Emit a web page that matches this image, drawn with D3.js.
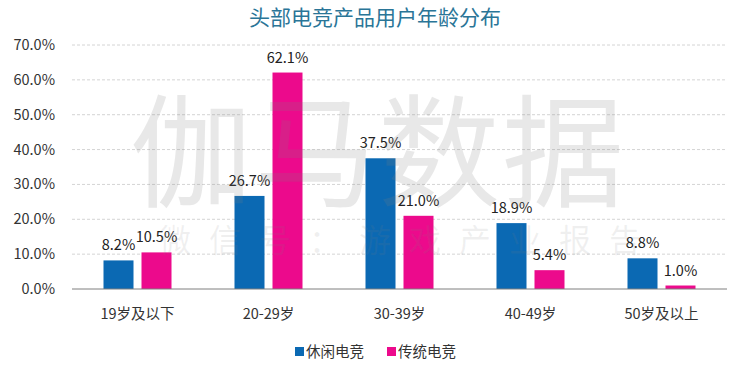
<!DOCTYPE html>
<meta charset="utf-8">
<style>
  body { margin: 0; background: #fff; }
  text { font-family: "Microsoft YaHei", "Noto Sans CJK SC", sans-serif; }
</style>
<svg width="750" height="367"></svg>
<script src="https://d3js.org/d3.v7.min.js"></script>
<script>
var categories = ["19岁及以下", "20-29岁", "30-39岁", "40-49岁", "50岁及以上"]
var seriesNames = ["休闲电竞", "传统电竞"]
var casual = [8.2, 26.7, 37.5, 18.9, 8.8]
var traditional = [10.5, 62.1, 21.0, 5.4, 1.0]
var yTicks = [0, 10, 20, 30, 40, 50, 60, 70]
var colors = ["#0b69b3", "#ec0a8c"]

var svg = d3.select("svg")
var plotLeft = 72, plotRight = 727, plotTop = 45, plotBottom = 289

var x = d3.scaleBand().domain(categories).range([plotLeft, plotRight])
// two bars of 30px with an 8px gap
var x1 = d3.scaleBand().domain(seriesNames).range([0, 68]).paddingInner(8 / 38)
var y = d3.scaleLinear().domain([0, 70]).range([plotBottom, plotTop])

// title
svg.append("text")
  .attr("x", 375).attr("y", 25)
  .attr("text-anchor", "middle")
  .attr("font-size", 21)
  .attr("fill", "#2a7597")
  .text("头部电竞产品用户年龄分布")

// grid
svg.append("g").selectAll("line")
  .data(yTicks.slice(1))
  .enter().append("line")
    .attr("x1", plotLeft).attr("x2", plotRight)
    .attr("y1", function (d) { return y(d) }).attr("y2", function (d) { return y(d) })
    .attr("stroke", "#d4d4d4")
    .attr("stroke-dasharray", "3,2")

// y tick labels
svg.append("g").selectAll("text")
  .data(yTicks)
  .enter().append("text")
    .attr("x", 55).attr("y", function (d) { return y(d) + 5 })
    .attr("text-anchor", "end")
    .attr("font-size", 14.5)
    .attr("fill", "#333")
    .text(function (d) { return d.toFixed(1) + "%" })

var rows = categories.map(function (c, i) {
  return { cat: c, vals: [casual[i], traditional[i]] }
})

var groups = svg.append("g").selectAll("g")
  .data(rows)
  .enter().append("g")
    .attr("transform", function (d) { return "translate(" + (x(d.cat) + x.bandwidth() / 2 - 34) + ",0)" })

groups.selectAll("rect")
  .data(function (d) { return d.vals.map(function (v, j) { return { s: seriesNames[j], v: v, j: j } }) })
  .enter().append("rect")
    .attr("x", function (d) { return x1(d.s) })
    .attr("width", x1.bandwidth())
    .attr("y", function (d) { return y(d.v) })
    .attr("height", function (d) { return plotBottom - y(d.v) })
    .attr("fill", function (d) { return colors[d.j] })

groups.selectAll("text")
  .data(function (d) { return d.vals.map(function (v, j) { return { s: seriesNames[j], v: v, j: j } }) })
  .enter().append("text")
    .attr("x", function (d) { return x1(d.s) + x1.bandwidth() / 2 })
    .attr("y", function (d) { return y(d.v) - 10 })
    .attr("text-anchor", "middle")
    .attr("font-size", 14.5)
    .attr("fill", "#222")
    .text(function (d) { return d.v.toFixed(1) + "%" })

// baseline
svg.append("line")
  .attr("x1", plotLeft).attr("x2", plotRight)
  .attr("y1", plotBottom).attr("y2", plotBottom)
  .attr("stroke", "#7f7f7f")

// x labels
svg.append("g").selectAll("text")
  .data(categories)
  .enter().append("text")
    .attr("x", function (d) { return x(d) + x.bandwidth() / 2 })
    .attr("y", 319)
    .attr("text-anchor", "middle")
    .attr("font-size", 14.5)
    .attr("fill", "#333")
    .text(function (d) { return d })

// legend
var legend = svg.append("g").selectAll("g")
  .data(seriesNames)
  .enter().append("g")
    .attr("transform", function (d, i) { return "translate(" + (295 + i * 92) + ",357)" })
legend.append("rect")
  .attr("x", 0).attr("y", -10).attr("width", 9).attr("height", 9)
  .attr("fill", function (d, i) { return colors[i] })
legend.append("text")
  .attr("x", 11).attr("y", 0)
  .attr("font-size", 14.5)
  .attr("fill", "#333")
  .text(function (d) { return d })

// watermark
svg.append("text")
  .attr("x", 378).attr("y", 197)
  .attr("text-anchor", "middle")
  .attr("font-size", 122)
  .attr("letter-spacing", 2)
  .attr("fill", "#808080")
  .attr("fill-opacity", 0.18)
  .text("伽马数据")
var wm = "微信号：游戏产业报告".split("")
svg.append("g").selectAll("text")
  .data(wm)
  .enter().append("text")
    .attr("x", function (d, i) { return 175 + i * 50 })
    .attr("y", 252)
    .attr("text-anchor", "middle")
    .attr("font-size", 32)
    .attr("fill", "#808080")
    .attr("fill-opacity", 0.12)
    .text(function (d) { return d })
</script>
